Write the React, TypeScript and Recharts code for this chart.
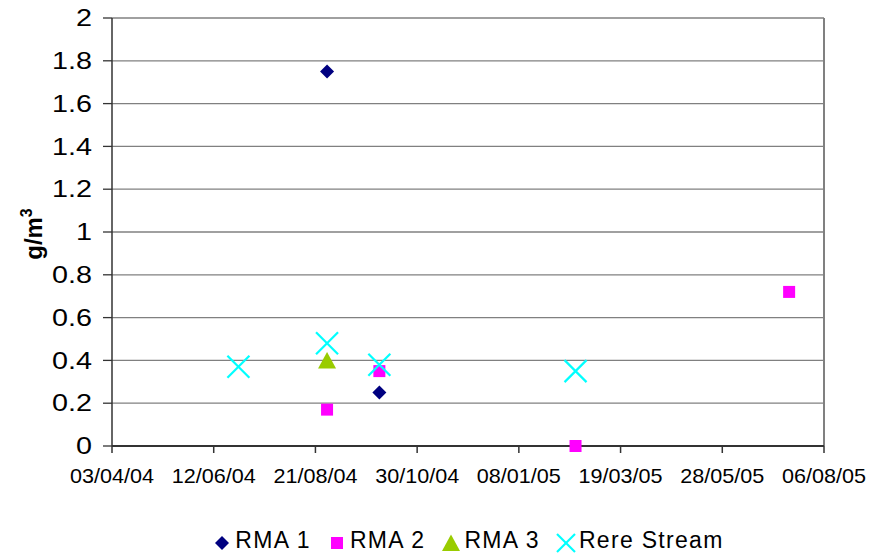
import React from "react";
import {
  ScatterChart,
  Scatter,
  XAxis,
  YAxis,
  CartesianGrid,
  ReferenceLine,
} from "recharts";

// sample dates (dd/mm/yy) and measured concentrations, g/m3
const rma1Dates = ["29/08/04", "04/10/04"];
const rma1Values = [1.75, 0.25];

const rma2Dates = ["29/08/04", "04/10/04", "16/02/05", "13/07/05"];
const rma2Values = [0.17, 0.35, 0.0, 0.72];

const rma3Dates = ["29/08/04"];
const rma3Values = [0.4];

const rereDates = ["29/06/04", "29/08/04", "04/10/04", "16/02/05"];
const rereValues = [0.37, 0.48, 0.38, 0.35];

const xTickLabels = [
  "03/04/04",
  "12/06/04",
  "21/08/04",
  "30/10/04",
  "08/01/05",
  "19/03/05",
  "28/05/05",
  "06/08/05",
];
const yTicks = [0, 0.2, 0.4, 0.6, 0.8, 1, 1.2, 1.4, 1.6, 1.8, 2];

const FONT = "'Liberation Sans', Arial, sans-serif";

// day number from a dd/mm/yy string
const toDay = (s: string) => {
  const [d, m, y] = s.split("/").map(Number);
  return Date.UTC(2000 + y, m - 1, d) / 86400000;
};
const fromDay = (n: number) => {
  const dt = new Date(n * 86400000);
  const p = (v: number) => String(v).padStart(2, "0");
  return `${p(dt.getUTCDate())}/${p(dt.getUTCMonth() + 1)}/${p(dt.getUTCFullYear() % 100)}`;
};

const toPoints = (dates: string[], values: number[]) =>
  dates.map((d, i) => ({ x: toDay(d), y: values[i] }));

const rma1 = toPoints(rma1Dates, rma1Values);
const rma2 = toPoints(rma2Dates, rma2Values);
const rma3 = toPoints(rma3Dates, rma3Values);
const rere = toPoints(rereDates, rereValues);

const xTicks = xTickLabels.map(toDay);

const NAVY = "#000080";
const MAGENTA = "#FF00FF";
const GREEN = "#99CC00";
const CYAN = "#00FFFF";

const Diamond = ({ cx, cy }: any) => (
  <polygon
    points={`${cx},${cy - 7} ${cx + 7},${cy} ${cx},${cy + 7} ${cx - 7},${cy}`}
    fill={NAVY}
  />
);
const Square = ({ cx, cy }: any) => (
  <rect x={cx - 6} y={cy - 6} width={12} height={12} fill={MAGENTA} />
);
const Triangle = ({ cx, cy }: any) => (
  <polygon
    points={`${cx},${cy - 8.5} ${cx + 9},${cy + 8} ${cx - 9},${cy + 8}`}
    fill={GREEN}
  />
);
const Cross = ({ cx, cy, r = 11 }: any) => (
  <g stroke={CYAN} strokeWidth={2.2}>
    <line x1={cx - r} y1={cy - r} x2={cx + r} y2={cy + r} />
    <line x1={cx - r} y1={cy + r} x2={cx + r} y2={cy - r} />
  </g>
);

const XTick = ({ x, y, payload }: any) => (
  <text
    transform={`translate(${x},${y}) scale(1.08,1)`}
    textAnchor="middle"
    dy="0.71em"
    fontSize={20}
    fontFamily={FONT}
    fill="#000"
  >
    {fromDay(payload.value)}
  </text>
);

const YTick = ({ x, y, payload }: any) => (
  <text
    transform={`translate(${x},${y}) scale(1.25,1)`}
    textAnchor="end"
    dy="0.36em"
    fontSize={23}
    fontFamily={FONT}
    fill="#000"
  >
    {String(payload.value)}
  </text>
);

const YLabel = () => (
  <text
    transform="translate(42,234) rotate(-90)"
    textAnchor="middle"
    fontSize={24}
    fontWeight="bold"
    fontFamily={FONT}
    fill="#000"
  >
    g/m
    <tspan fontSize={16} dy={-10}>
      3
    </tspan>
  </text>
);

const legendItems = [
  { name: "RMA 1", Shape: Diamond },
  { name: "RMA 2", Shape: Square },
  { name: "RMA 3", Shape: Triangle },
  { name: "Rere Stream", Shape: Cross },
];

export default function App() {
  return (
    <div
      style={{
        position: "absolute",
        left: 0,
        top: 0,
        width: 869,
        height: 559,
        background: "#fff",
      }}
    >
      <ScatterChart
        width={869}
        height={559}
        margin={{ top: 18, right: 45, bottom: 53, left: 52 }}
      >
        <CartesianGrid vertical={false} stroke="#808080" strokeWidth={1.3} />
        <XAxis
          type="number"
          dataKey="x"
          domain={[xTicks[0], xTicks[xTicks.length - 1]]}
          ticks={xTicks}
          height={60}
          tick={<XTick />}
          tickSize={7}
          tickMargin={16}
          axisLine={{ stroke: "#333", strokeWidth: 2 }}
          tickLine={{ stroke: "#333", strokeWidth: 1.5 }}
        />
        <YAxis
          type="number"
          dataKey="y"
          domain={[0, 2]}
          ticks={yTicks}
          width={60}
          tick={<YTick />}
          tickSize={9}
          tickMargin={11}
          axisLine={{ stroke: "#333", strokeWidth: 1.5 }}
          tickLine={{ stroke: "#333", strokeWidth: 1.3 }}
          label={<YLabel />}
        />
        <ReferenceLine
          x={xTicks[xTicks.length - 1]}
          stroke="#808080"
          strokeWidth={2}
        />
        <Scatter name="RMA 1" data={rma1} shape={<Diamond />} isAnimationActive={false} />
        <Scatter name="RMA 2" data={rma2} shape={<Square />} isAnimationActive={false} />
        <Scatter name="RMA 3" data={rma3} shape={<Triangle />} isAnimationActive={false} />
        <Scatter name="Rere Stream" data={rere} shape={<Cross />} isAnimationActive={false} />
      </ScatterChart>
      <div
        style={{
          position: "absolute",
          left: 118,
          width: 712,
          top: 527,
          display: "flex",
          justifyContent: "center",
          alignItems: "center",
          fontFamily: FONT,
          fontSize: 23,
          letterSpacing: 1.3,
          color: "#000",
        }}
      >
        {legendItems.map(({ name, Shape }) => (
          <div
            key={name}
            style={{ display: "flex", alignItems: "center", marginRight: 14 }}
          >
            <svg width={24} height={24} style={{ marginRight: 1 }}>
              <Shape cx={12} cy={14} r={9} />
            </svg>
            <span>{name}</span>
          </div>
        ))}
      </div>
    </div>
  );
}
